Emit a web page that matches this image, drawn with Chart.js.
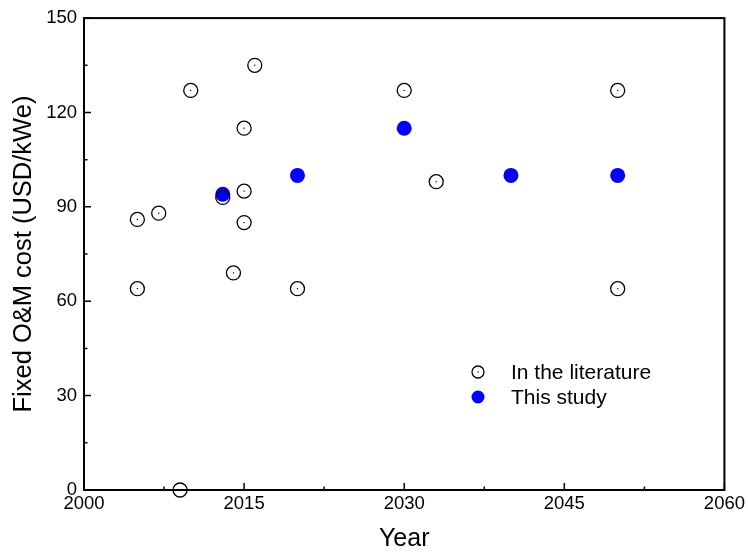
<!DOCTYPE html>
<html>
<head>
<meta charset="utf-8">
<script src="https://cdn.jsdelivr.net/npm/chart.js@4"></script>
<style>
  html, body { margin: 0; padding: 0; background: #fff; }
  #wrap { width: 748px; height: 554px; }
</style>
</head>
<body>
<div id="wrap"><canvas id="chart"></canvas></div>
<script>
// literature values (year, USD/kWe)
const litYears = [2005, 2005, 2007, 2009, 2010, 2013, 2014, 2015, 2015, 2015, 2016, 2020, 2030, 2033, 2050, 2050];
const litCost  = [86, 64, 88, 0, 127, 93, 69, 115, 95, 85, 135, 64, 127, 98, 127, 64];

// this study
const studyYears = [2013, 2020, 2030, 2040, 2050];
const studyCost  = [94, 100, 115, 100, 100];

const xTicks = [2000, 2015, 2030, 2045, 2060];
const yTicks = [0, 30, 60, 90, 120, 150];

const FONT = 'Liberation Sans, Arial, sans-serif';

const toPoints = (xs, ys) => xs.map((x, i) => ({ x: x, y: ys[i] }));

// inward ticks, frame, centre dots and the inset legend
const decorations = {
  id: 'decorations',
  afterDatasetsDraw(chart) {
    const ctx = chart.ctx;
    const a = chart.chartArea;
    const xs = chart.scales.x, ys = chart.scales.y;
    ctx.save();
    ctx.strokeStyle = '#000';
    ctx.lineWidth = 2;
    ctx.strokeRect(a.left, a.top, a.right - a.left, a.bottom - a.top);

    ctx.lineWidth = 1.5;
    ctx.beginPath();
    xTicks.forEach((v, i) => {
      const px = xs.getPixelForValue(v);
      ctx.moveTo(px, a.bottom); ctx.lineTo(px, a.bottom - 7);
      if (i < xTicks.length - 1) {
        const m = xs.getPixelForValue((v + xTicks[i + 1]) / 2);
        ctx.moveTo(m, a.bottom); ctx.lineTo(m, a.bottom - 3.5);
      }
    });
    yTicks.forEach((v, i) => {
      const py = ys.getPixelForValue(v);
      ctx.moveTo(a.left, py); ctx.lineTo(a.left + 7, py);
      if (i < yTicks.length - 1) {
        const m = ys.getPixelForValue((v + yTicks[i + 1]) / 2);
        ctx.moveTo(a.left, m); ctx.lineTo(a.left + 3.5, m);
      }
    });
    ctx.stroke();

    // centre dot of the open circles
    ctx.fillStyle = '#000';
    chart.getDatasetMeta(0).data.forEach(p => {
      ctx.fillRect(p.x - 0.6, p.y - 0.6, 1.2, 1.2);
    });

    // legend
    const lx = 478, rows = [372, 397];
    ctx.font = '21px ' + FONT;
    ctx.textBaseline = 'middle';
    chart.data.datasets.forEach((ds, i) => {
      ctx.beginPath();
      ctx.arc(lx, rows[i], i === 0 ? 6 : 6.5, 0, Math.PI * 2);
      if (i === 0) {
        ctx.fillStyle = '#fff'; ctx.fill();
        ctx.lineWidth = 1.3; ctx.strokeStyle = '#000'; ctx.stroke();
        ctx.fillStyle = '#000';
        ctx.fillRect(lx - 0.6, rows[i] - 0.6, 1.2, 1.2);
      } else {
        ctx.fillStyle = ds.backgroundColor; ctx.fill();
      }
      ctx.fillStyle = '#000';
      ctx.fillText(ds.label, 511, rows[i] + 1);
    });
    ctx.restore();
  }
};

new Chart(document.getElementById('chart'), {
  type: 'scatter',
  data: {
    datasets: [
      {
        label: 'In the literature',
        data: toPoints(litYears, litCost),
        pointRadius: 7,
        pointBackgroundColor: 'rgba(255,255,255,0)',
        pointBorderColor: '#000',
        pointBorderWidth: 1.3,
        clip: false
      },
      {
        label: 'This study',
        data: toPoints(studyYears, studyCost),
        backgroundColor: '#0000ff',
        pointRadius: 7.5,
        pointBackgroundColor: '#0000ff',
        pointBorderColor: '#0000ff',
        pointBorderWidth: 0,
        clip: false
      }
    ]
  },
  options: {
    responsive: true,
    maintainAspectRatio: false,
    animation: false,
    events: [],
    layout: { padding: { top: 16, right: 23, left: 0, bottom: 0 } },
    plugins: { legend: { display: false }, tooltip: { enabled: false } },
    scales: {
      x: {
        type: 'linear',
        min: 2000, max: 2060,
        afterBuildTicks: s => { s.ticks = xTicks.map(v => ({ value: v })); },
        afterFit: s => { s.height = 64; },
        grid: { display: false, drawTicks: false },
        border: { display: false },
        ticks: { color: '#000', font: { family: FONT, size: 18.5 }, padding: 3, maxRotation: 0, callback: v => v },
        title: { display: true, text: 'Year', color: '#000', font: { family: FONT, size: 25 }, padding: { top: 0, bottom: 0 } }
      },
      y: {
        min: 0, max: 150,
        afterBuildTicks: s => { s.ticks = yTicks.map(v => ({ value: v })); },
        afterFit: s => { s.width = 84; },
        grid: { display: false, drawTicks: false },
        border: { display: false },
        ticks: { color: '#000', font: { family: FONT, size: 18.5 }, padding: 7 },
        title: { display: true, text: 'Fixed O&M cost (USD/kWe)', color: '#000', font: { family: FONT, size: 25.5 }, padding: { top: 9, bottom: 0 } }
      }
    }
  },
  plugins: [decorations]
});
</script>
</body>
</html>
